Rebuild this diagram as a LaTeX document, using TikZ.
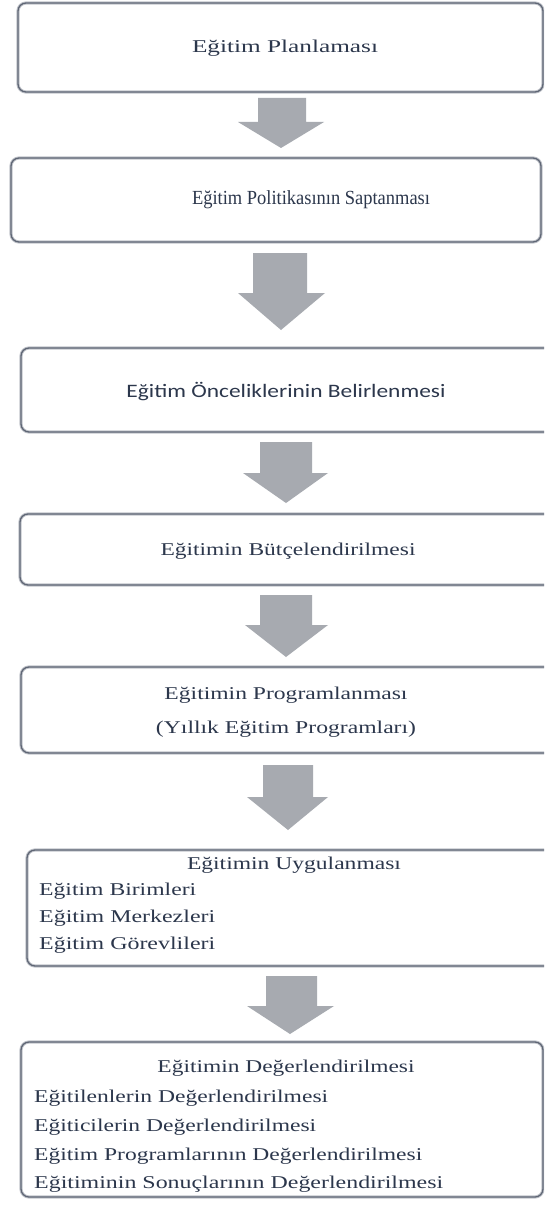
\documentclass[tikz,border=0pt]{standalone}
\usepackage{fontspec}
\setmainfont{Liberation Serif}
\newfontfamily\sansf{Carlito}
\usepackage{graphicx}
\usetikzlibrary{fit}
\definecolor{bordc}{HTML}{5F6675}
\definecolor{haloc}{HTML}{C3C6CC}
\definecolor{arrc}{HTML}{A7AAB0}
\definecolor{txtc}{HTML}{2C374C}
\newcommand\tw[2]{\resizebox{#1pt}{\height}{#2}}
\begin{document}
\begin{tikzpicture}[x=1pt,y=-1pt,
  box/.style={draw=bordc, line width=1.3pt, rounded corners=8pt,
    preaction={draw=haloc, line width=3.2pt}, inner sep=0pt},
  txt/.style={text=txtc, font=\fontsize{18}{20}\selectfont, inner sep=0pt},
  barrow/.style={fill=arrc}]
\clip (0,0) rectangle (544,1206);
\fill[white] (0,0) rectangle (544,1206);
% boxes
\node[box, fit={(18,3) (543,92)}] (b1) {};
\node[box, fit={(11,158) (541,242)}] (b2) {};
\node[box, fit={(21,348) (552,432)}] (b3) {};
\node[box, fit={(20,514) (552,585)}] (b4) {};
\node[box, fit={(21,667) (552,753)}] (b5) {};
\node[box, fit={(27,850) (552,966)}] (b6) {};
\node[box, fit={(21,1042) (543,1197)}] (b7) {};
% arrows
\fill[barrow] (258,98) -- (306,98) -- (306,122) -- (324,122) -- (281,148) -- (238,122) -- (258,122) -- cycle;
\fill[barrow] (253,253) -- (307,253) -- (307,293) -- (325,293) -- (281,330) -- (238,293) -- (253,293) -- cycle;
\fill[barrow] (260,442) -- (312,442) -- (312,473) -- (328,473) -- (286,503) -- (243,473) -- (260,473) -- cycle;
\fill[barrow] (260,595) -- (312,595) -- (312,625) -- (328,625) -- (286,657) -- (245,625) -- (260,625) -- cycle;
\fill[barrow] (263,765) -- (313,765) -- (313,797) -- (328,797) -- (288,830) -- (247,797) -- (263,797) -- cycle;
\fill[barrow] (266,976) -- (317,976) -- (317,1006) -- (334,1006) -- (290,1034) -- (247,1006) -- (266,1006) -- cycle;
% texts
\node[txt, anchor=base] (t1) at (285,53) {\tw{186}{Eğitim Planlaması}};
\node[txt, anchor=base, font=\fontsize{20}{22}\selectfont] (t2) at (311,205) {\tw{238}{Eğitim Politikasının Saptanması}};
\node[txt, anchor=base, font=\sansf\fontsize{19}{21}\selectfont] (t3) at (286,397) {\tw{319}{Eğitim Önceliklerinin Belirlenmesi}};
\node[txt, anchor=base] (t4) at (288,555) {\tw{255}{Eğitimin Bütçelendirilmesi}};
\node[txt, anchor=base] (t5a) at (286,699) {\tw{243}{Eğitimin Programlanması}};
\node[txt, anchor=base] (t5b) at (286,733) {\tw{260}{(Yıllık Eğitim Programları)}};
\node[txt, anchor=base] (t6) at (294,869) {\tw{214}{Eğitimin Uygulanması}};
\node[txt, anchor=base west] (t6a) at (39,895) {\tw{157}{Eğitim Birimleri}};
\node[txt, anchor=base west] (t6b) at (39,922) {\tw{176}{Eğitim Merkezleri}};
\node[txt, anchor=base west] (t6c) at (39,949) {\tw{176}{Eğitim Görevlileri}};
\node[txt, anchor=base] (t7) at (286,1072) {\tw{257}{Eğitimin Değerlendirilmesi}};
\node[txt, anchor=base west] (t7a) at (34,1102) {\tw{294}{Eğitilenlerin Değerlendirilmesi}};
\node[txt, anchor=base west] (t7b) at (34,1131) {\tw{282}{Eğiticilerin Değerlendirilmesi}};
\node[txt, anchor=base west] (t7c) at (34,1160) {\tw{388}{Eğitim Programlarının Değerlendirilmesi}};
\node[txt, anchor=base west] (t7d) at (34,1188) {\tw{409}{Eğitiminin Sonuçlarının Değerlendirilmesi}};
\end{tikzpicture}
\end{document}
